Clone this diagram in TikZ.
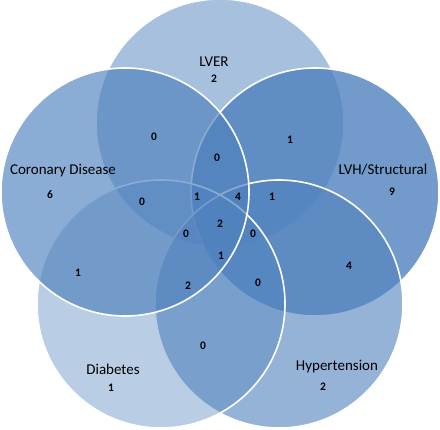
\documentclass[tikz,border=0pt]{standalone}
\usepackage{fontspec}
\setmainfont{Carlito}
\usepackage{tikz}
\usetikzlibrary{positioning}
\usepackage{xcolor}
\definecolor{vennblue}{HTML}{4F81BD}
\tikzset{
    vennset/.style={
        circle,
        draw=white,
        line width=1.6pt,
        fill=vennblue,
        minimum size=248pt,
        inner sep=0pt
    },
    setname/.style={
        font=\fontsize{15}{17}\selectfont,
        inner sep=1pt
    },
    count/.style={
        font=\fontsize{11.5}{13}\selectfont\bfseries,
        inner sep=1pt
    }
}

\begin{document}
\begin{tikzpicture}[x=1pt, y=-1pt]
    \useasboundingbox (0,0) rectangle (440,430);

    \node[vennset, fill opacity=0.5] (lver) at (220,123) {};
    \node[vennset, fill opacity=0.8] (lvh) at (315,192) {};
    \node[vennset, fill opacity=0.6] (hyp) at (279,304) {};
    \node[vennset, fill opacity=0.4] (diab) at (161,304) {};
    \node[vennset, fill opacity=0.66] (cor) at (125,192) {};

    % set names and counts
    \node[setname] (lvername) at (214,62) {LVER};
    \node[count] (lveronly) at (214,79) {2};
    \node[setname] (corname) at (63,171) {Coronary Disease};
    \node[count] (coronly) at (50,195) {6};
    \node[setname] (lvhname) at (383,170) {LVH/Structural};
    \node[count] (lvhonly) at (392,192) {9};
    \node[setname] (diabname) at (113,369) {Diabetes};
    \node[count] (diabonly) at (111,388) {1};
    \node[setname] (hypname) at (337,367) {Hypertension};
    \node[count] (hyponly) at (323,387) {2};

    % overlaps
    \node[count] (corlver) at (154,137) {0};
    \node[count] (lverlvh) at (290,140) {1};
    \node[count] (corlverlvh) at (217,158) {0};
    \node[count] (cordiabc) at (142,202) {0};
    \node[count] (four1) at (197,197) {1};
    \node[count] (four2) at (238,197) {4};
    \node[count] (lvhhyplver) at (272,197) {1};
    \node[count] (allfive) at (220,224) {2};
    \node[count] (cordiabhyp) at (186,234) {0};
    \node[count] (lvhhypcor) at (253,234) {0};
    \node[count] (four3) at (221,256) {1};
    \node[count] (cordiab) at (78,273) {1};
    \node[count] (cordiabhyp2) at (188,286) {2};
    \node[count] (lvhhypdiab) at (258,283) {0};
    \node[count] (lvhhyp) at (349,266) {4};
    \node[count] (diabhyp) at (203,346) {0};
\end{tikzpicture}
\end{document}
